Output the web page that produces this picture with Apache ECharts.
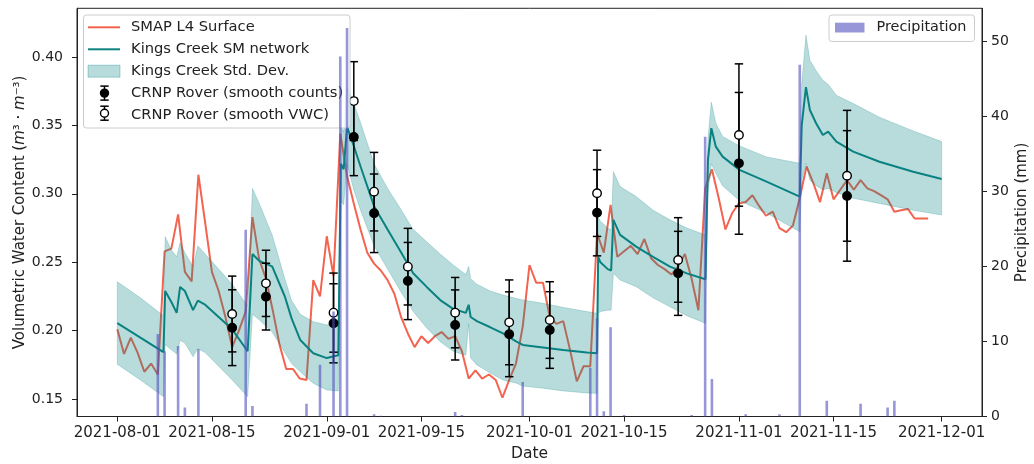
<!DOCTYPE html>
<html>
<head>
<meta charset="utf-8">
<script src="https://cdn.jsdelivr.net/npm/echarts@6/dist/echarts.min.js"></script>
<style>
  html, body { margin: 0; padding: 0; background: #fff; }
  #chart { width: 1034px; height: 464px; }
</style>
</head>
<body>
<div id="chart"></div>
<script>
// ---- SMAP L4 surface soil moisture, daily from 2021-08-01 ----
const smapStart = '2021-08-01';
const smapValues = [
  // Aug
  0.201, 0.183, 0.195, 0.184, 0.170, 0.176, 0.168, 0.258, 0.260, 0.285,
  0.243, 0.236, 0.314, 0.279, 0.243, 0.229, 0.210, 0.188, 0.200, 0.214,
  0.283, 0.252, 0.238, 0.215, 0.190, 0.172, 0.172, 0.165, 0.164, 0.237, 0.225,
  // Sep
  0.269, 0.240, 0.344, 0.313, 0.293, 0.274, 0.257, 0.249, 0.244, 0.237,
  0.227, 0.210, 0.198, 0.188, 0.196, 0.191, 0.196, 0.199, 0.194, 0.196,
  0.185, 0.165, 0.171, 0.165, 0.168, 0.164, 0.151, 0.164, 0.176, 0.203,
  // Oct
  0.248, 0.235, 0.235, 0.210, 0.205, 0.207, 0.186, 0.163, 0.174, 0.174,
  0.271, 0.257, 0.292, 0.254, 0.258, 0.262, 0.256, 0.267, 0.253, 0.248,
  0.245, 0.241, 0.247, 0.256, 0.238, 0.215, 0.304, 0.318, 0.297, 0.274, 0.286,
  // Nov
  0.293, 0.294, 0.299, 0.291, 0.284, 0.287, 0.275, 0.272, 0.277, 0.297,
  0.320, 0.308, 0.294, 0.315, 0.296, 0.303, 0.310, 0.303, 0.310, 0.304,
  0.302, 0.299, 0.296, 0.287, 0.288, 0.289, 0.282, 0.282, 0.282
];

// ---- Kings Creek SM network: mean and +/- one std. dev. ----
const kcTimes = [
  '2021-08-01 00:00', '2021-08-04 10:00', '2021-08-07 20:00', '2021-08-08 02:00', '2021-08-09 00:00',
  '2021-08-09 19:00', '2021-08-10 07:00', '2021-08-11 00:00', '2021-08-12 05:00', '2021-08-12 22:00',
  '2021-08-14 00:00', '2021-08-16 00:00', '2021-08-18 00:00', '2021-08-20 07:00', '2021-08-21 00:00',
  '2021-08-22 00:00', '2021-08-23 22:00', '2021-08-25 19:00', '2021-08-26 19:00', '2021-08-28 02:00',
  '2021-08-30 00:00', '2021-09-01 00:00', '2021-09-02 17:00', '2021-09-03 02:00', '2021-09-03 12:00',
  '2021-09-04 00:00', '2021-09-05 00:00', '2021-09-06 00:00', '2021-09-08 00:00', '2021-09-10 00:00',
  '2021-09-11 19:00', '2021-09-13 19:00', '2021-09-15 19:00', '2021-09-17 19:00', '2021-09-19 17:00',
  '2021-09-21 14:00', '2021-09-22 00:00', '2021-09-22 07:00', '2021-09-23 05:00', '2021-09-25 05:00',
  '2021-09-27 02:00', '2021-09-29 02:00', '2021-09-30 00:00', '2021-10-03 00:00', '2021-10-06 00:00',
  '2021-10-09 12:00', '2021-10-11 00:00', '2021-10-11 04:00', '2021-10-11 12:00', '2021-10-12 14:00',
  '2021-10-13 02:00', '2021-10-13 10:00', '2021-10-14 10:00', '2021-10-16 19:00', '2021-10-19 07:00',
  '2021-10-21 19:00', '2021-10-24 07:00', '2021-10-27 01:00', '2021-10-27 10:00', '2021-10-27 22:00',
  '2021-10-28 14:00', '2021-10-29 14:00', '2021-11-01 02:00', '2021-11-05 02:00', '2021-11-10 00:00',
  '2021-11-10 07:00', '2021-11-10 22:00', '2021-11-11 12:00', '2021-11-12 10:00', '2021-11-13 10:00',
  '2021-11-14 05:00', '2021-11-15 10:00', '2021-11-17 22:00', '2021-11-21 19:00', '2021-11-26 19:00',
  '2021-12-01 00:00'
];
const kcMean = [
  0.2055, 0.1950, 0.1843, 0.2290, 0.2210, 0.2130, 0.2320, 0.2290, 0.2150, 0.2220,
  0.2190, 0.2100, 0.2010, 0.1850, 0.2560, 0.2510, 0.2470, 0.2250, 0.2090, 0.1932,
  0.1835, 0.1800, 0.1820, 0.3220, 0.3180, 0.3490, 0.3350, 0.3200, 0.2910, 0.2740,
  0.2590, 0.2420, 0.2320, 0.2224, 0.2160, 0.2130, 0.2190, 0.2100, 0.2070, 0.2025,
  0.1980, 0.1920, 0.1896, 0.1878, 0.1859, 0.1840, 0.1835, 0.2540, 0.2500, 0.2450,
  0.2440, 0.2810, 0.2700, 0.2614, 0.2540, 0.2468, 0.2419, 0.2376, 0.3250, 0.3480,
  0.3345, 0.3272, 0.3175, 0.3089, 0.2980, 0.3500, 0.3780, 0.3613, 0.3516, 0.3430,
  0.3455, 0.3382, 0.3309, 0.3235, 0.3162, 0.3109
];
const kcUpper = [
  0.2358, 0.2240, 0.2110, 0.2687, 0.2590, 0.2540, 0.2643, 0.2570, 0.2468, 0.2620,
  0.2560, 0.2450, 0.2340, 0.2180, 0.3040, 0.2930, 0.2700, 0.2380, 0.2220, 0.2120,
  0.2066, 0.2042, 0.2080, 0.3500, 0.3450, 0.3780, 0.3660, 0.3520, 0.3220, 0.3040,
  0.2900, 0.2740, 0.2650, 0.2560, 0.2480, 0.2410, 0.2470, 0.2380, 0.2340, 0.2290,
  0.2260, 0.2235, 0.2225, 0.2200, 0.2170, 0.2140, 0.2127, 0.2830, 0.2800, 0.2750,
  0.2736, 0.3162, 0.3053, 0.2980, 0.2880, 0.2810, 0.2750, 0.2700, 0.3400, 0.3670,
  0.3516, 0.3420, 0.3350, 0.3270, 0.3223, 0.3800, 0.4160, 0.3977, 0.3900, 0.3830,
  0.3800, 0.3720, 0.3660, 0.3560, 0.3460, 0.3382
];
const kcLower = [
  0.1755, 0.1640, 0.1518, 0.1900, 0.1860, 0.1830, 0.1930, 0.1910, 0.1810, 0.1870,
  0.1840, 0.1740, 0.1640, 0.1518, 0.2120, 0.2080, 0.1990, 0.1840, 0.1760, 0.1700,
  0.1616, 0.1567, 0.1560, 0.2950, 0.2920, 0.3220, 0.3030, 0.2880, 0.2620, 0.2450,
  0.2300, 0.2140, 0.2020, 0.1920, 0.1850, 0.1820, 0.2050, 0.1800, 0.1750, 0.1690,
  0.1640, 0.1616, 0.1595, 0.1580, 0.1560, 0.1545, 0.1542, 0.2127, 0.2140, 0.2150,
  0.2151, 0.2420, 0.2370, 0.2322, 0.2240, 0.2175, 0.2110, 0.2054, 0.3000, 0.3220,
  0.3150, 0.3060, 0.2950, 0.2860, 0.2724, 0.3100, 0.3223, 0.3100, 0.3060, 0.3030,
  0.3040, 0.3010, 0.2968, 0.2930, 0.2880, 0.2845
];

// ---- CRNP rover surveys ----
const crnpDates = [
  '2021-08-18', '2021-08-23', '2021-09-02', '2021-09-05', '2021-09-08', '2021-09-13', '2021-09-20',
  '2021-09-28', '2021-10-04', '2021-10-11', '2021-10-23', '2021-11-01', '2021-11-17'
];
const crnpCounts = [0.2022, 0.2249, 0.2054, 0.3415, 0.2858, 0.2363, 0.2042, 0.1974, 0.2005, 0.2862, 0.2419, 0.3223, 0.2985];
const crnpCountsErr = [0.0277, 0.0244, 0.0289, 0.0282, 0.0287, 0.0282, 0.0256, 0.0310, 0.0280, 0.0315, 0.0307, 0.0518, 0.0477];
const crnpVwc = [0.2122, 0.2346, 0.2132, 0.3678, 0.3016, 0.2468, 0.2132, 0.2061, 0.2078, 0.3004, 0.2517, 0.3430, 0.3132];
const crnpVwcErr = [0.0277, 0.0242, 0.0289, 0.0288, 0.0287, 0.0280, 0.0257, 0.0310, 0.0280, 0.0315, 0.0309, 0.0520, 0.0478];

// ---- Daily precipitation (mm) ----
const precipDates = [
  '2021-08-07', '2021-08-08', '2021-08-10', '2021-08-11', '2021-08-13', '2021-08-20', '2021-08-21',
  '2021-08-29', '2021-08-31', '2021-09-02', '2021-09-03', '2021-09-04', '2021-09-08', '2021-09-09',
  '2021-09-20', '2021-09-21', '2021-09-30', '2021-10-10', '2021-10-11', '2021-10-12', '2021-10-13',
  '2021-10-15', '2021-10-25', '2021-10-27', '2021-10-28', '2021-11-02', '2021-11-07', '2021-11-10',
  '2021-11-14', '2021-11-19', '2021-11-23', '2021-11-24'
];
const precipValues = [
  11.0, 8.7, 9.4, 1.2, 9.0, 24.9, 1.4,
  1.7, 6.9, 14.0, 48.0, 51.8, 0.3, 0.1,
  0.6, 0.2, 4.6, 6.5, 13.1, 0.7, 11.9,
  0.2, 0.2, 37.3, 5.0, 0.3, 0.3, 46.9,
  2.1, 1.7, 1.2, 2.1
];

// ---- Axis ticks and ranges ----
const dateTicks = ['2021-08-01', '2021-08-15', '2021-09-01', '2021-09-15', '2021-10-01', '2021-10-15', '2021-11-01', '2021-11-15', '2021-12-01'];
const vwcTicks = [0.15, 0.20, 0.25, 0.30, 0.35, 0.40];
const precipTicks = [0, 10, 20, 30, 40, 50];
const dateRange = ['2021-07-26 00:50', '2021-12-06 23:20'];
const vwcRange = [0.1373, 0.4356];
const precipRange = [0, 54.43];

// ---- Helpers ----
const ts = s => Date.parse(s.length <= 10 ? s + 'T00:00:00Z' : s.replace(' ', 'T') + ':00Z');
const DAY = 86400000;
const pad = n => (n < 10 ? '0' : '') + n;
const fmtDate = v => {
  const d = new Date(v);
  return d.getUTCFullYear() + '-' + pad(d.getUTCMonth() + 1) + '-' + pad(d.getUTCDate());
};

const C_SMAP = '#f36450';
const C_KC = '#0f8282';
const C_BAND = 'rgba(0,128,128,0.28)';
const C_RAIN = 'rgba(80,80,190,0.6)';
const C_TEXT = '#222';
const FONT = '"DejaVu Sans", sans-serif';
const LEGEND_FONT = '14.7px ' + FONT;

const smapData = smapValues.map((v, i) => [ts(smapStart) + i * DAY, v]);
const kcMeanData = kcTimes.map((t, i) => [ts(t), kcMean[i]]);
const kcBandData = kcTimes.map((t, i) => [ts(t), kcLower[i], kcUpper[i]]);
const precipData = precipDates.map((d, i) => [ts(d), precipValues[i]]);

function errorBars(name, vals, errs, z) {
  return {
    type: 'custom', name, z, yAxisIndex: 0, silent: true,
    encode: { x: 0, y: 1 },
    data: crnpDates.map((d, i) => [ts(d), vals[i], errs[i]]),
    renderItem(params, api) {
      const x = api.value(0), v = api.value(1), e = api.value(2);
      const top = api.coord([x, v + e]);
      const bot = api.coord([x, v - e]);
      const hw = 4.2;
      const st = { stroke: '#000', lineWidth: 1.5 };
      return {
        type: 'group',
        children: [
          { type: 'line', shape: { x1: top[0], y1: top[1], x2: bot[0], y2: bot[1] }, style: st },
          { type: 'line', shape: { x1: top[0] - hw, y1: top[1], x2: top[0] + hw, y2: top[1] }, style: st },
          { type: 'line', shape: { x1: bot[0] - hw, y1: bot[1], x2: bot[0] + hw, y2: bot[1] }, style: st }
        ]
      };
    }
  };
}

function markers(name, vals, fill, z) {
  return {
    type: 'scatter', name, z, yAxisIndex: 0, silent: true,
    symbol: 'circle', symbolSize: 8.5,
    itemStyle: { color: fill, borderColor: '#000', borderWidth: 1.4, opacity: 1 },
    data: crnpDates.map((d, i) => [ts(d), vals[i]])
  };
}

// ---- Legend boxes ----
function legendRows() {
  const els = [];
  const x0 = 88, x1 = 120, tx = 131;
  const rows = [27.3, 49.3, 71.2, 93.6, 115.2];
  const txt = (y, s, z) => ({
    type: 'text', z, silent: true,
    style: { text: s, x: tx, y, font: LEGEND_FONT, fill: C_TEXT, verticalAlign: 'middle' }
  });
  els.push({
    type: 'rect', z: 20, silent: true,
    shape: { x: 83.5, y: 15, width: 266.5, height: 113, r: 3 },
    style: { fill: 'rgba(255,255,255,0.8)', stroke: '#cccccc', lineWidth: 1 }
  });
  els.push({ type: 'line', z: 21, silent: true, shape: { x1: x0, y1: rows[0], x2: x1, y2: rows[0] }, style: { stroke: C_SMAP, lineWidth: 2 } });
  els.push(txt(rows[0], 'SMAP L4 Surface', 21));
  els.push({ type: 'line', z: 21, silent: true, shape: { x1: x0, y1: rows[1], x2: x1, y2: rows[1] }, style: { stroke: C_KC, lineWidth: 2 } });
  els.push(txt(rows[1], 'Kings Creek SM network', 21));
  els.push({ type: 'rect', z: 21, silent: true, shape: { x: x0, y: rows[2] - 6, width: x1 - x0, height: 12 }, style: { fill: C_BAND, stroke: 'rgba(0,128,128,0.3)', lineWidth: 1 } });
  els.push(txt(rows[2], 'Kings Creek Std. Dev.', 21));
  [[rows[3] - 0.5, '#000'], [rows[4] - 2, '#fff']].forEach(([cy, fill]) => {
    const cx = 104.5, h = 7, hw = 4.2, st = { stroke: '#000', lineWidth: 1.5 };
    els.push({ type: 'line', z: 21, silent: true, shape: { x1: cx, y1: cy - h, x2: cx, y2: cy + h }, style: st });
    els.push({ type: 'line', z: 21, silent: true, shape: { x1: cx - hw, y1: cy - h, x2: cx + hw, y2: cy - h }, style: st });
    els.push({ type: 'line', z: 21, silent: true, shape: { x1: cx - hw, y1: cy + h, x2: cx + hw, y2: cy + h }, style: st });
    els.push({ type: 'circle', z: 21, silent: true, shape: { cx, cy, r: 4 }, style: { fill, stroke: '#000', lineWidth: 1.4 } });
  });
  els.push(txt(rows[3], 'CRNP Rover (smooth counts)', 21));
  els.push(txt(rows[4], 'CRNP Rover (smooth VWC)', 21));

  // precipitation legend, drawn above the bars
  els.push({
    type: 'rect', z: 40, silent: true,
    shape: { x: 829, y: 15, width: 145.5, height: 26.5, r: 3 },
    style: { fill: 'rgba(255,255,255,0.8)', stroke: '#cccccc', lineWidth: 1 }
  });
  els.push({ type: 'rect', z: 41, silent: true, shape: { x: 835, y: 22.7, width: 29.5, height: 9.8 }, style: { fill: C_RAIN } });
  els.push({
    type: 'text', z: 41, silent: true,
    style: { text: 'Precipitation', x: 876.5, y: 27.6, font: '14.4px ' + FONT, fill: C_TEXT, verticalAlign: 'middle' }
  });
  return els;
}

const chart = echarts.init(document.getElementById('chart'), null, { renderer: 'canvas' });
chart.setOption({
  animation: false,
  backgroundColor: '#fff',
  textStyle: { fontFamily: FONT },
  grid: {
    left: 77, right: 52, top: 8.3, bottom: 47.5,
    outerBoundsMode: 'none', containLabel: false,
    show: true, borderColor: C_TEXT, borderWidth: 1, backgroundColor: 'transparent'
  },
  xAxis: {
    // dates are plotted as UTC millisecond values on a linear axis
    type: 'value',
    min: ts(dateRange[0]), max: ts(dateRange[1]),
    axisLine: { show: true, lineStyle: { color: C_TEXT, width: 1 } },
    axisTick: { show: true, length: 5, inside: false, customValues: dateTicks.map(ts), lineStyle: { color: C_TEXT, width: 1 } },
    axisLabel: { customValues: dateTicks.map(ts), formatter: fmtDate, color: C_TEXT, fontSize: 15, margin: 9, hideOverlap: false },
    splitLine: { show: false },
    name: 'Date', nameLocation: 'middle', nameGap: 29, nameMoveOverlap: false,
    nameTextStyle: { color: C_TEXT, fontSize: 15.5 }
  },
  yAxis: [
    {
      type: 'value', position: 'left',
      min: vwcRange[0], max: vwcRange[1],
      axisLine: { show: true, lineStyle: { color: C_TEXT, width: 1 } },
      axisTick: { show: true, length: 5, inside: false, customValues: vwcTicks, lineStyle: { color: C_TEXT, width: 1 } },
      axisLabel: { customValues: vwcTicks, formatter: v => v.toFixed(2), color: C_TEXT, fontSize: 14, margin: 14 },
      splitLine: { show: false },
      name: 'Volumetric Water Content ({i|m}³ · {i|m}⁻³)',
      nameLocation: 'middle', nameGap: 49, nameRotate: 90, nameMoveOverlap: false,
      nameTextStyle: { color: C_TEXT, fontSize: 15, rich: { i: { fontStyle: 'italic', fontSize: 15, color: C_TEXT } } }
    },
    {
      type: 'value', position: 'right',
      min: precipRange[0], max: precipRange[1],
      axisLine: { show: true, lineStyle: { color: C_TEXT, width: 1 } },
      axisTick: { show: true, length: 5, inside: false, customValues: precipTicks, lineStyle: { color: C_TEXT, width: 1 } },
      axisLabel: { customValues: precipTicks, color: C_TEXT, fontSize: 14, margin: 9 },
      splitLine: { show: false },
      name: 'Precipitation (mm)',
      nameLocation: 'middle', nameGap: 33, nameRotate: 90, nameMoveOverlap: false,
      nameTextStyle: { color: C_TEXT, fontSize: 15 }
    }
  ],
  graphic: { elements: legendRows() },
  series: [
    {
      type: 'line', name: 'SMAP L4 Surface', z: 2, yAxisIndex: 0,
      data: smapData, showSymbol: false, symbol: 'none',
      lineStyle: { color: C_SMAP, width: 2 }, silent: true
    },
    {
      type: 'line', name: 'Kings Creek SM network', z: 3, yAxisIndex: 0,
      data: kcMeanData, showSymbol: false, symbol: 'none',
      lineStyle: { color: C_KC, width: 2 }, silent: true
    },
    {
      // std. dev. envelope: one polygon along the upper edge and back along the lower edge
      type: 'custom', name: 'Kings Creek Std. Dev.', z: 4, yAxisIndex: 0, silent: true,
      encode: { x: 0, y: [1, 2] },
      data: kcBandData,
      renderItem(params, api) {
        if (params.dataIndex !== 0) return null;
        const up = kcBandData.map(d => api.coord([d[0], d[2]]));
        const lo = kcBandData.map(d => api.coord([d[0], d[1]])).reverse();
        return {
          type: 'polygon',
          shape: { points: up.concat(lo) },
          style: { fill: C_BAND, stroke: 'rgba(0,128,128,0.22)', lineWidth: 1 }
        };
      }
    },
    errorBars('CRNP Rover (smooth counts) error', crnpCounts, crnpCountsErr, 5),
    markers('CRNP Rover (smooth counts)', crnpCounts, '#000', 6),
    errorBars('CRNP Rover (smooth VWC) error', crnpVwc, crnpVwcErr, 7),
    markers('CRNP Rover (smooth VWC)', crnpVwc, '#fff', 8),
    {
      type: 'bar', name: 'Precipitation', z: 30, yAxisIndex: 1,
      data: precipData, barWidth: 2.6,
      itemStyle: { color: C_RAIN }, silent: true
    }
  ]
});
</script>
</body>
</html>
